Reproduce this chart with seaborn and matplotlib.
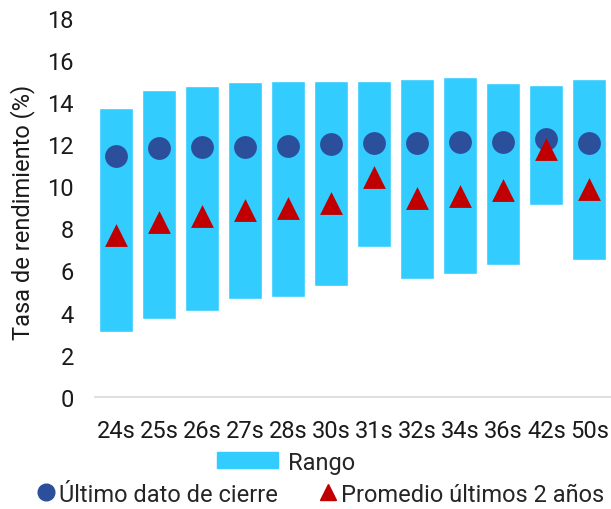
import matplotlib
matplotlib.use('Agg')
import matplotlib.pyplot as plt
from matplotlib.patches import Patch
from matplotlib.lines import Line2D
import seaborn as sns
import pandas as pd

# Data
plazos = ['24s', '25s', '26s', '27s', '28s', '30s', '31s', '32s', '34s', '36s', '42s', '50s']
rango_min = [3.09, 3.68, 4.08, 4.63, 4.72, 5.26, 7.12, 5.61, 5.84, 6.27, 9.13, 6.52]
rango_max = [13.70, 14.55, 14.74, 14.93, 15.00, 14.99, 14.99, 15.09, 15.18, 14.90, 14.83, 15.09]
ultimo = [11.45, 11.80, 11.85, 11.88, 11.91, 12.00, 12.07, 12.07, 12.08, 12.11, 12.24, 12.07]
promedio = [7.67, 8.31, 8.58, 8.86, 8.96, 9.22, 10.46, 9.42, 9.53, 9.83, 11.78, 9.85]

df = pd.DataFrame({'plazo': plazos, 'min': rango_min, 'max': rango_max,
                   'ultimo': ultimo, 'promedio': promedio})
df['alto'] = df['max'] - df['min']

sns.set_style('white')
plt.rcParams['font.family'] = ['Roboto', 'DejaVu Sans']

c_bar = '#33CCFF'
c_circ = '#2B4F9B'
c_tri = '#C00000'
fs = 17

fig = plt.figure(figsize=(6.11, 5.10), dpi=100)
ax = fig.add_axes([0.155, 0.22, 0.845, 0.743])

sns.barplot(data=df, x='plazo', y='alto', bottom=df['min'], color=c_bar,
            width=0.79, saturation=1, ax=ax, zorder=2)
sns.scatterplot(data=df, x='plazo', y='ultimo', marker='o', s=270, color=c_circ,
                linewidth=0, ax=ax, zorder=3)
sns.scatterplot(data=df, x='plazo', y='promedio', marker='^', s=270, color=c_tri,
                linewidth=0, ax=ax, zorder=4)

ax.set_xlim(-0.5, len(plazos) - 0.5)
ax.set_ylim(0, 18)
ax.set_yticks(range(0, 19, 2))
ax.set_xlabel('')
ax.set_ylabel('Tasa de rendimiento (%)', fontsize=fs, color='#1a1a1a')
ax.yaxis.set_label_coords(-0.116, 0.49)
ax.tick_params(axis='both', length=0, labelsize=fs, colors='#1a1a1a')
ax.tick_params(axis='y', pad=15)
ax.tick_params(axis='x', pad=16)
for s in ['top', 'right', 'left']:
    ax.spines[s].set_visible(False)
ax.spines['bottom'].set_color('#d9d9d9')
ax.spines['bottom'].set_linewidth(1.2)

# Legend: "Rango" on first row, markers on second row
leg1 = fig.legend(handles=[Patch(color=c_bar, label='Rango')],
                  loc='center', bbox_to_anchor=(0.468, 0.092), frameon=False,
                  fontsize=fs, handlelength=2.58, handleheight=0.68, handletextpad=0.42)
h2 = [Line2D([], [], marker='o', color=c_circ, linestyle='', markersize=12,
             label='Último dato de cierre'),
      Line2D([], [], marker='^', color=c_tri, linestyle='', markersize=12,
             label='Promedio últimos 2 años')]
leg2 = fig.legend(handles=h2, loc='center', bbox_to_anchor=(0.525, 0.029), ncol=2,
                  frameon=False, fontsize=fs, handlelength=0.7, handletextpad=0.2,
                  columnspacing=1.75)

fig.savefig('out.png', dpi=100)
